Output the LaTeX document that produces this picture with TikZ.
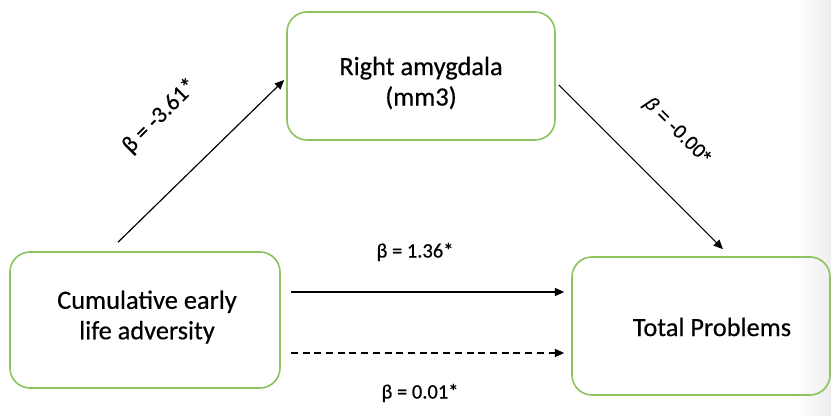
\documentclass[tikz,border=0pt]{standalone}
\usepackage{fontspec}
\setmainfont{Carlito}[FakeBold=0.4]
\newfontfamily\arialfont{Liberation Sans}[FakeBold=0.3]
\usetikzlibrary{arrows.meta,calc}
\definecolor{boxgreen}{RGB}{140,196,96}

\begin{document}
\begin{tikzpicture}[x=0.3mm,y=0.3mm,
    varbox/.style={draw=boxgreen,line width=1.4pt,rounded corners=6mm},
    boxtext/.style={align=center,font=\fontsize{22.5}{26}\selectfont},
    coef/.style={font=\fontsize{17.5}{20}\selectfont},
    arr/.style={-{Triangle[length=8pt,width=7pt]},line width=1pt}]

    \useasboundingbox (0,0) rectangle (831,415);
    % faint shade at the right edge
    \shade[left color=white,right color=black!7] (795,0) rectangle (831,415);

    % nodes (variables)
    \node[varbox,minimum width=81mm,minimum height=40.8mm] (adver) at (145,95) {};
    \node[boxtext] (advertext) at (147,98) {Cumulative early\\life adversity};
    \node[varbox,minimum width=80.4mm,minimum height=38.4mm] (amyg) at (421,339) {};
    \node[boxtext] (amygtext) at (421,332) {Right amygdala\\(mm3)};
    \node[varbox,minimum width=77.4mm,minimum height=41.4mm] (total) at (701,89) {};
    \node[boxtext] (totaltext) at (712,88) {Total Problems};

    % paths
    \draw[arr] ($(adver.north)+(-27,9)$) -- ($(amyg.west)+(-2,-4)$); % adversity -> amygdala
    \draw[arr] ($(amyg.east)+(3,-9)$) -- ($(total.north)+(22,7)$); % amygdala -> problems
    \draw[arr] ($(adver.east)+(10,28)$) -- ($(total.west)+(-7,34)$); % total effect
    \draw[arr,dashed,dash pattern=on 6pt off 4pt] ($(adver.east)+(10,-33)$) -- ($(total.west)+(-7,-27)$); % direct effect

    % nodes (effects)
    \node[coef,rotate=45,font=\fontsize{20}{22}\selectfont] (ba) at (160,299) {β = -3.61*};
    \node[coef,rotate=-45,font=\arialfont\fontsize{16.5}{19}\selectfont] (bb) at (677,284) {{\itshape β} = -0.00*};
    \node[coef] (bc) at (415,163) {β = 1.36*};
    \node[coef] (bd) at (420,22) {β = 0.01*};

\end{tikzpicture}
\end{document}
